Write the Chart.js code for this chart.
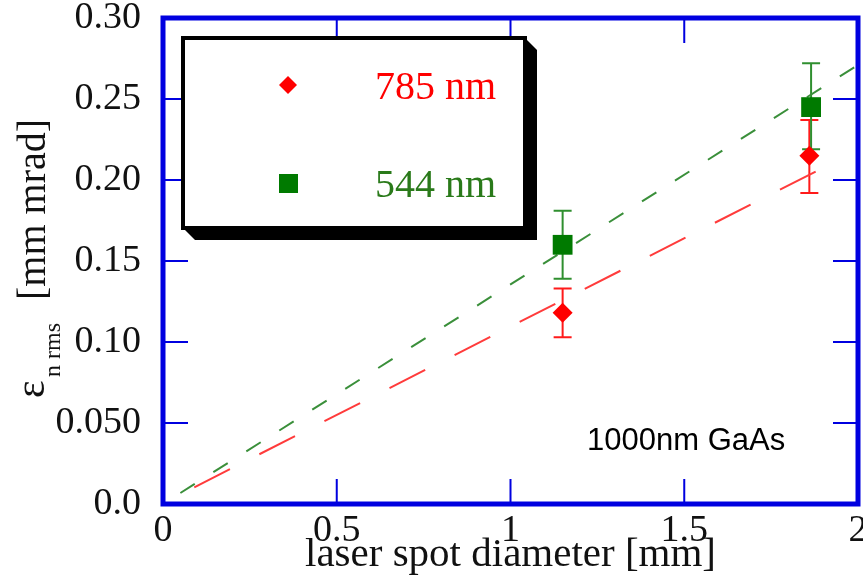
<!DOCTYPE html>
<html>
<head>
<meta charset="utf-8">
<script src="https://cdn.jsdelivr.net/npm/chart.js@4.4.0/dist/chart.umd.min.js"></script>
<style>
  html, body { margin: 0; padding: 0; background: #fff; }
</style>
</head>
<body>
<canvas id="myChart" width="863" height="580"></canvas>
<script>
// measured emittance, 785 nm
const spot785 = [1.15, 1.86];
const emit785 = [0.118, 0.215];
const err785Low = [0.103, 0.192];
const err785High = [0.133, 0.237];

// measured emittance, 544 nm
const spot544 = [1.15, 1.865];
const emit544 = [0.160, 0.245];
const err544Low = [0.139, 0.219];
const err544High = [0.181, 0.272];

// fitted lines (end points)
const fit785X = [0.09, 1.9];
const fit785Y = [0.0103, 0.2076];
const fit544X = [0.05, 2.0];
const fit544Y = [0.0068, 0.271];

const yTickLabels = ['0.0', '0.050', '0.10', '0.15', '0.20', '0.25', '0.30'];
const xTickLabels = ['0', '0.5', '1', '1.5', '2'];
const seriesNames = ['785 nm', '544 nm'];

const RED = '#ff0000';
const GREEN = '#007a00';
const BLUE = '#0000e0';
const serif = 'Liberation Serif';

const toPoints = (xs, ys) => xs.map((x, i) => ({ x: x, y: ys[i] }));

// error bars, frame, inward ticks, legend box, y title
const framePlugin = {
    id: 'frame',
    beforeDatasetsDraw(chart) {
        const ctx = chart.ctx;
        const xs = chart.scales.x, ys = chart.scales.y;
        const bars = [
            { x: spot785, lo: err785Low, hi: err785High, color: '#ff1a1a' },
            { x: spot544, lo: err544Low, hi: err544High, color: '#2f8f2f' }
        ];
        ctx.save();
        ctx.lineWidth = 2;
        bars.forEach(b => {
            ctx.strokeStyle = b.color;
            for (let i = 0; i < b.x.length; i++) {
                const px = xs.getPixelForValue(b.x[i]);
                const y1 = ys.getPixelForValue(b.lo[i]);
                const y2 = ys.getPixelForValue(b.hi[i]);
                ctx.beginPath();
                ctx.moveTo(px, y1); ctx.lineTo(px, y2);
                ctx.moveTo(px - 9, y1); ctx.lineTo(px + 9, y1);
                ctx.moveTo(px - 9, y2); ctx.lineTo(px + 9, y2);
                ctx.stroke();
            }
        });
        ctx.restore();
    },
    afterDraw(chart) {
        const ctx = chart.ctx;
        const a = chart.chartArea;
        const xs = chart.scales.x, ys = chart.scales.y;
        ctx.save();

        // inward ticks
        ctx.strokeStyle = BLUE;
        ctx.lineWidth = 2;
        ctx.beginPath();
        [0.05, 0.1, 0.15, 0.2, 0.25].forEach(v => {
            const py = ys.getPixelForValue(v);
            ctx.moveTo(a.left, py); ctx.lineTo(a.left + 25, py);
            ctx.moveTo(a.right, py); ctx.lineTo(a.right - 25, py);
        });
        [0.5, 1, 1.5].forEach(v => {
            const px = xs.getPixelForValue(v);
            ctx.moveTo(px, a.bottom); ctx.lineTo(px, a.bottom - 25);
            ctx.moveTo(px, a.top); ctx.lineTo(px, a.top + 25);
        });
        ctx.stroke();

        // frame
        ctx.lineWidth = 5;
        ctx.strokeRect(a.left, a.top, a.right - a.left, a.bottom - a.top);

        // legend box with shadow
        const bx = 183, by = 38, bw = 342, bh = 190, sh = 12;
        ctx.fillStyle = '#000';
        ctx.beginPath();
        ctx.moveTo(bx + bw, by);
        ctx.lineTo(bx + bw + sh, by + sh);
        ctx.lineTo(bx + bw + sh, by + bh + sh);
        ctx.lineTo(bx + sh, by + bh + sh);
        ctx.lineTo(bx, by + bh);
        ctx.closePath();
        ctx.fill();
        ctx.fillStyle = '#fff';
        ctx.fillRect(bx, by, bw, bh);
        ctx.strokeStyle = '#000';
        ctx.lineWidth = 4;
        ctx.strokeRect(bx, by, bw, bh);

        // legend entries
        ctx.fillStyle = RED;
        ctx.beginPath();
        ctx.moveTo(288, 76); ctx.lineTo(297, 85); ctx.lineTo(288, 94); ctx.lineTo(279, 85);
        ctx.closePath(); ctx.fill();
        ctx.fillStyle = GREEN;
        ctx.fillRect(279, 174, 19, 19);

        ctx.font = '40px "' + serif + '"';
        ctx.textBaseline = 'middle';
        ctx.textAlign = 'left';
        ctx.fillStyle = RED;
        ctx.fillText(seriesNames[0], 375, 88);
        ctx.fillStyle = '#2a7a1a';
        ctx.fillText(seriesNames[1], 375, 186);

        // annotation
        ctx.fillStyle = '#000';
        ctx.textBaseline = 'alphabetic';
        ctx.font = '31px "Liberation Sans"';
        ctx.fillText('1000nm GaAs', 587, 450);

        // y axis title: epsilon with subscript, rotated
        ctx.rotate(-Math.PI / 2);
        ctx.fillStyle = '#111';
        ctx.font = '42px "' + serif + '"';
        ctx.fillText('\u03b5', -398, 44);
        ctx.font = '24px "' + serif + '"';
        ctx.fillText('n rms', -377, 60);
        ctx.font = '40px "' + serif + '"';
        ctx.fillText('[mm mrad]', -300, 45);
        ctx.restore();
    }
};

const ctx = document.getElementById('myChart');

new Chart(ctx, {
    type: 'scatter',
    data: {
        datasets: [
            {
                label: seriesNames[0],
                data: toPoints(spot785, emit785),
                pointStyle: 'rectRot',
                pointRadius: 10,
                pointBackgroundColor: RED,
                pointBorderWidth: 0,
                showLine: false
            },
            {
                label: seriesNames[1],
                data: toPoints(spot544, emit544),
                pointStyle: 'rect',
                pointRadius: 14,
                pointBackgroundColor: GREEN,
                pointBorderWidth: 0,
                showLine: false
            },
            {
                label: 'fit 785',
                data: toPoints(fit785X, fit785Y),
                showLine: true,
                pointRadius: 0,
                borderColor: '#ff3b3b',
                borderWidth: 2,
                borderDash: [40, 33]
            },
            {
                label: 'fit 544',
                data: toPoints(fit544X, fit544Y),
                showLine: true,
                pointRadius: 0,
                borderColor: '#3a8f3a',
                borderWidth: 2,
                borderDash: [17, 22]
            }
        ]
    },
    options: {
        responsive: false,
        animation: false,
        layout: { autoPadding: false, padding: { top: 18, right: 5, left: 0, bottom: 0 } },
        plugins: { legend: { display: false }, tooltip: { enabled: false } },
        scales: {
            x: {
                type: 'linear',
                min: 0,
                max: 2,
                grid: { display: false },
                border: { display: false },
                afterFit: (s) => { s.height = 76; s.paddingLeft = 0; s.paddingRight = 0; },
                ticks: {
                    stepSize: 0.5,
                    maxRotation: 0,
                    padding: -4,
                    color: '#111',
                    font: { family: serif, size: 38 },
                    callback: (v) => xTickLabels[Math.round(v / 0.5)]
                },
                title: {
                    display: true,
                    text: 'laser spot diameter [mm]',
                    color: '#111',
                    font: { family: serif, size: 41 },
                    padding: 0
                }
            },
            y: {
                min: 0,
                max: 0.3,
                grid: { display: false },
                border: { display: false },
                afterFit: (s) => { s.width = 163; s.paddingTop = 0; s.paddingBottom = 0; },
                ticks: {
                    stepSize: 0.05,
                    padding: 14,
                    color: '#111',
                    font: { family: serif, size: 38 },
                    callback: (v) => yTickLabels[Math.round(v / 0.05)]
                }
            }
        }
    },
    plugins: [framePlugin]
});
</script>
</body>
</html>
